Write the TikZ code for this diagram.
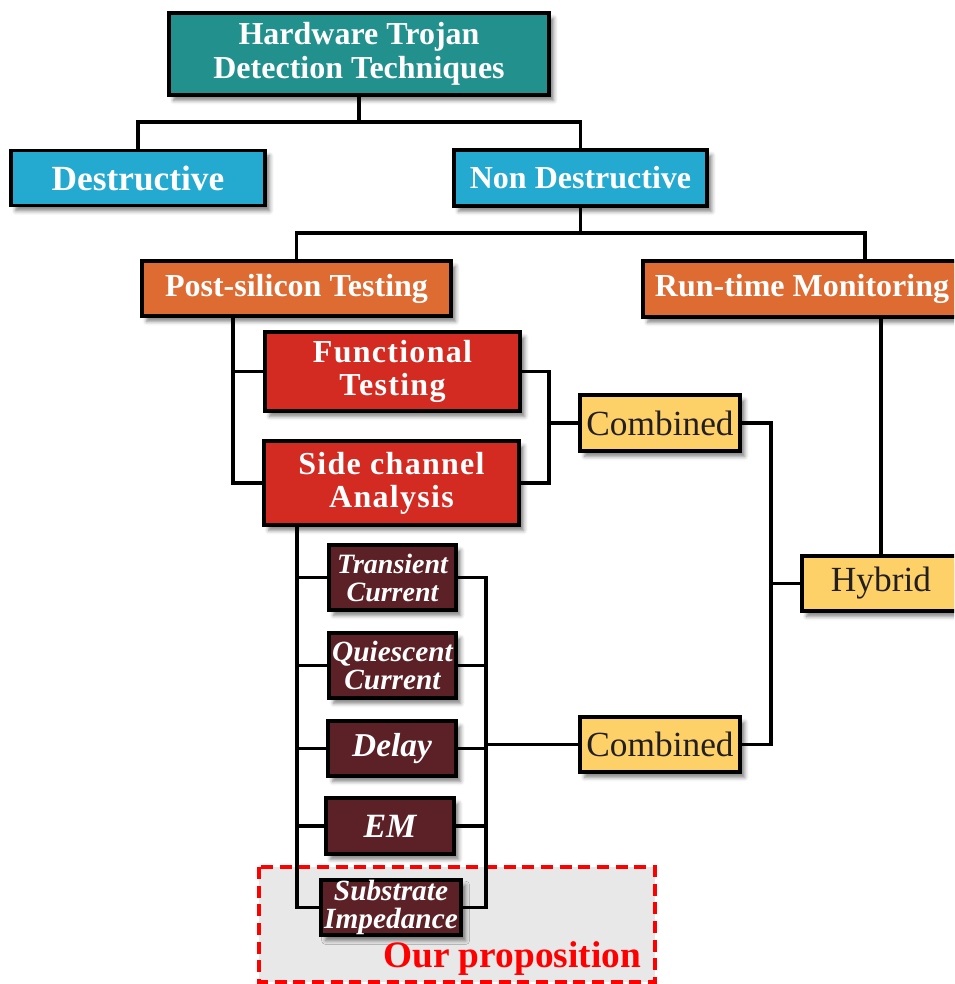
\documentclass[tikz,border=0pt]{standalone}
\usepackage{fontspec}
\setmainfont{Liberation Serif}
\usetikzlibrary{shadows.blur,calc}

\pgfdeclarelayer{panel}
\pgfdeclarelayer{wires}
\pgfsetlayers{panel,wires,main}

\definecolor{cTeal}{RGB}{34,144,141}
\definecolor{cBlue}{RGB}{36,169,209}
\definecolor{cOrange}{RGB}{221,107,50}
\definecolor{cRed}{RGB}{211,42,34}
\definecolor{cMaroon}{RGB}{91,33,38}
\definecolor{cYellow}{RGB}{254,208,104}
\definecolor{cInk}{RGB}{35,31,32}
\definecolor{cPanel}{RGB}{232,232,232}

\tikzset{
  box/.style={draw=black, line width=2.8pt, inner sep=0pt, outer sep=0pt, align=center,
    blur shadow={shadow xshift=3.5pt, shadow yshift=-4pt, shadow blur radius=3pt, shadow opacity=50}},
  head/.style={box, text=white, font=\bfseries\fontsize{24}{25.5}\selectfont},
  method/.style={box, fill=cRed, text=white,
    font=\bfseries\addfontfeature{LetterSpace=4}\fontsize{24}{24.75}\selectfont},
  probe/.style={box, fill=cMaroon, text=white, font=\bfseries\itshape\fontsize{21}{21}\selectfont},
  probebig/.style={box, fill=cMaroon, text=white, font=\bfseries\itshape\fontsize{25}{25}\selectfont},
  merge/.style={box, fill=cYellow, text=cInk, font=\fontsize{26.5}{28}\selectfont},
  wire/.style={line width=2.3pt, black},
}

\begin{document}
\begin{tikzpicture}[x=0.75pt, y=-0.75pt]
\useasboundingbox (0,0) rectangle (954,984);
\clip (0,0) rectangle (954,984);

% top levels
\node[head, fill=cTeal, minimum width=285pt, minimum height=61.5pt] (htdt) at (359,54) {Hardware Trojan\\Detection Techniques};
\node[head, font=\bfseries\fontsize{26.5}{28}\selectfont, fill=cBlue, minimum width=190.5pt, minimum height=41.25pt] (destr) at (138,178) {Destructive};
\node[head, fill=cBlue, minimum width=189.75pt, minimum height=42pt] (nondestr) at (580.5,178) {Non Destructive};
\node[head, fill=cOrange, minimum width=231.75pt, minimum height=41.25pt] (pst) at (296.5,288.5) {Post-silicon Testing};
\node[head, fill=cOrange, minimum width=238.5pt, minimum height=42pt] (rtm) at (802,289) {Run-time Monitoring};

% post-silicon methods
\node[method, minimum width=191.25pt, minimum height=59.25pt] (ft) at (392.5,371.5) {Functional\\Testing};
\node[method, minimum width=191.25pt, minimum height=63pt] (sca) at (391.5,483) {Side channel\\Analysis};

% combinations
\node[merge, minimum width=120pt, minimum height=42pt] (comb1) at (660,423) {Combined};
\node[merge, minimum width=118.5pt, minimum height=41.25pt] (hybrid) at (881,583.5) {Hybrid};
\node[merge, minimum width=120pt, minimum height=41.25pt] (comb2) at (660,744.5) {Combined};

% side-channel parameters
\node[probe, minimum width=95.25pt, minimum height=48.75pt] (tc) at (392.5,577.5) {Transient\\Current};
\node[probe, font=\bfseries\itshape\fontsize{22}{21}\selectfont, minimum width=95.25pt, minimum height=48.75pt] (qc) at (392.5,665.5) {Quiescent\\Current};
\node[probebig, minimum width=96pt, minimum height=41.25pt] (delay) at (392,748.5) {Delay};
\node[probebig, font=\bfseries\itshape\fontsize{25.5}{25.5}\selectfont, minimum width=96pt, minimum height=42pt] (em) at (390,826) {EM};
\node[probe, font=\bfseries\itshape\fontsize{22}{21.5}\selectfont, minimum width=105pt, minimum height=41.25pt] (sub) at (391,907.5) {Substrate\\Impedance};

% highlighted proposal panel
\begin{pgfonlayer}{panel}
  \draw[red, fill=cPanel, line width=2.3pt, dash pattern=on 9pt off 5pt] (259,867) rectangle (655,982);
\end{pgfonlayer}
\node[text=red, font=\bfseries\fontsize{28}{30}\selectfont, inner sep=0pt] (prop) at (512,959) {Our proposition};

% connectors
\begin{pgfonlayer}{wires}
  \coordinate (j1) at ($(htdt.south)+(0,27)$);
  \draw[wire] (htdt.south) -- (j1);
  \draw[wire] (destr.north) |- (j1) -| (nondestr.north);

  \coordinate (j2) at ($(nondestr.south)+(0,27)$);
  \draw[wire] (nondestr.south) -- (j2);
  \draw[wire] (pst.north) |- (j2) -| ($(rtm.north)+(63,0)$);

  \draw[wire] (hybrid.north) -- (hybrid.north |- rtm.south);

  \coordinate (b1) at ($(pst.south west)+(91,0)$);
  \draw[wire] (b1) |- (sca.west);
  \draw[wire] (b1 |- ft.west) -- (ft.west);

  \coordinate (rb1) at ($(comb1.west)+(-31,0)$);
  \draw[wire] (ft.east) -| (rb1) |- (sca.east);
  \draw[wire] (rb1) -- (comb1.west);

  \coordinate (rb2) at ($(hybrid.west)+(-31,0)$);
  \draw[wire] (comb1.east) -| (rb2) |- (comb2.east);
  \draw[wire] (rb2) -- (hybrid.west);

  \coordinate (b2) at ($(sca.south west)+(33,0)$);
  \draw[wire] (b2) |- (sub.west);
  \draw[wire] (b2 |- tc.west) -- (tc.west);
  \draw[wire] (b2 |- qc.west) -- (qc.west);
  \draw[wire] (b2 |- delay.west) -- (delay.west);
  \draw[wire] (b2 |- em.west) -- (em.west);

  \coordinate (rb3) at ($(comb2.west)+(-94,0)$);
  \draw[wire] (tc.east) -| (rb3) |- (sub.east);
  \draw[wire] (rb3 |- qc.east) -- (qc.east);
  \draw[wire] (rb3 |- delay.east) -- (delay.east);
  \draw[wire] (rb3 |- em.east) -- (em.east);
  \draw[wire] (rb3) -- (comb2.west);
\end{pgfonlayer}
\end{tikzpicture}
\end{document}
